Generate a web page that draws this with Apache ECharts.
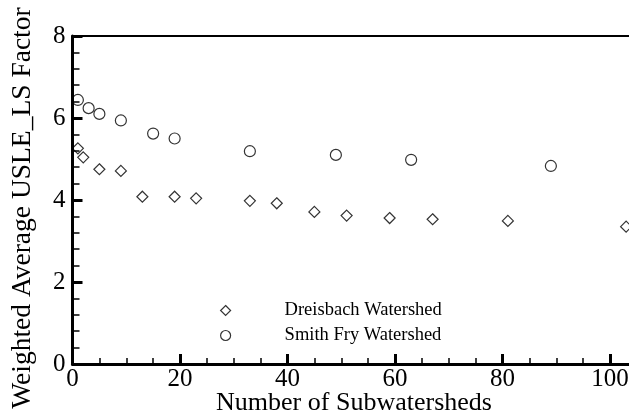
<!DOCTYPE html>
<html>
<head>
<meta charset="utf-8">
<script src="https://cdn.jsdelivr.net/npm/echarts@6/dist/echarts.min.js"></script>
<style>
  html, body { margin: 0; padding: 0; background: #fff; }
  #chart { width: 629px; height: 419px; }
</style>
</head>
<body>
<div id="chart"></div>
<script>
// Weighted average USLE LS factor vs. number of subwatersheds
const dreisbachX = [1, 2, 5, 9, 13, 19, 23, 33, 38, 45, 51, 59, 67, 81, 103];
const dreisbachY = [5.26, 5.04, 4.75, 4.71, 4.08, 4.08, 4.04, 3.98, 3.92, 3.71, 3.62, 3.56, 3.53, 3.49, 3.35];
const smithFryX = [1, 3, 5, 9, 15, 19, 33, 49, 63, 89];
const smithFryY = [6.44, 6.24, 6.10, 5.94, 5.62, 5.50, 5.19, 5.10, 4.98, 4.83];
const xTickLabels = [0, 20, 40, 60, 80, 100];
const yTickLabels = [0, 2, 4, 6, 8];
const seriesNames = ['Dreisbach Watershed', 'Smith Fry Watershed'];
const xTitle = 'Number of Subwatersheds';
const yTitle = 'Weighted Average USLE_LS Factor';

const FONT = '"Liberation Serif", "Times New Roman", serif';
const INK = '#000';

const pairs = (xs, ys) => xs.map((x, i) => [x, ys[i]]);

const markerStyle = {
  color: 'rgba(0,0,0,0)',
  borderColor: INK,
  borderWidth: 1.2
};

const chart = echarts.init(document.getElementById('chart'), null, { renderer: 'canvas' });

chart.setOption({
  animation: false,
  backgroundColor: '#fff',
  grid: {
    left: 72.5,
    right: -88.5,
    top: 36,
    bottom: 55,
    outerBoundsMode: 'none',
    containLabel: false
  },
  xAxis: [
    {
      type: 'value',
      position: 'bottom',
      min: 0,
      max: 120,
      interval: 20,
      axisLine: { show: true, onZero: false, lineStyle: { color: INK, width: 3 } },
      axisTick: { show: true, inside: true, length: 10, lineStyle: { color: INK, width: 3 } },
      minorTick: { show: true, splitNumber: 4, length: 6, lineStyle: { color: INK, width: 1.5 } },
      splitLine: { show: false },
      axisLabel: {
        show: true,
        margin: 3,
        color: INK,
        fontFamily: FONT,
        fontSize: 25,
        formatter: v => (xTickLabels.indexOf(v) >= 0 ? String(v) : '')
      }
    },
    {
      type: 'value',
      position: 'top',
      min: 0,
      max: 120,
      axisLine: { show: true, onZero: false, lineStyle: { color: INK, width: 2 } },
      axisTick: { show: false },
      axisLabel: { show: false },
      splitLine: { show: false }
    }
  ],
  yAxis: {
    type: 'value',
    min: 0,
    max: 8,
    interval: 2,
    axisLine: { show: true, onZero: false, lineStyle: { color: INK, width: 3 } },
    axisTick: { show: true, inside: true, length: 10, lineStyle: { color: INK, width: 3 } },
    minorTick: { show: true, splitNumber: 5, length: 7, lineStyle: { color: INK, width: 1.5 } },
    splitLine: { show: false },
    axisLabel: {
      margin: 7,
      color: INK,
      fontFamily: FONT,
      fontSize: 25,
      formatter: v => (yTickLabels.indexOf(v) >= 0 ? String(v) : '')
    }
  },
  legend: {
    orient: 'vertical',
    left: 215,
    top: 296,
    itemWidth: 10,
    itemHeight: 10,
    itemGap: 6,
    selectedMode: false,
    data: [
      { name: seriesNames[0], icon: 'diamond' },
      { name: seriesNames[1], icon: 'circle' }
    ],
    itemStyle: markerStyle,
    textStyle: {
      color: INK,
      fontFamily: FONT,
      fontSize: 18.5,
      lineHeight: 18,
      padding: [0, 0, 0, 49]
    }
  },
  graphic: [
    {
      type: 'text',
      x: 354,
      y: 403,
      style: {
        text: xTitle,
        fill: INK,
        font: '26px ' + FONT,
        align: 'center',
        verticalAlign: 'middle'
      }
    },
    {
      type: 'text',
      x: 23,
      y: 208,
      rotation: Math.PI / 2,
      style: {
        text: yTitle,
        fill: INK,
        font: '27.5px ' + FONT,
        align: 'center',
        verticalAlign: 'middle'
      }
    }
  ],
  series: [
    {
      name: seriesNames[0],
      type: 'scatter',
      symbol: 'diamond',
      symbolSize: 11,
      itemStyle: markerStyle,
      emphasis: { disabled: true },
      data: pairs(dreisbachX, dreisbachY)
    },
    {
      name: seriesNames[1],
      type: 'scatter',
      symbol: 'circle',
      symbolSize: 11,
      itemStyle: markerStyle,
      emphasis: { disabled: true },
      data: pairs(smithFryX, smithFryY)
    }
  ]
});
</script>
</body>
</html>
